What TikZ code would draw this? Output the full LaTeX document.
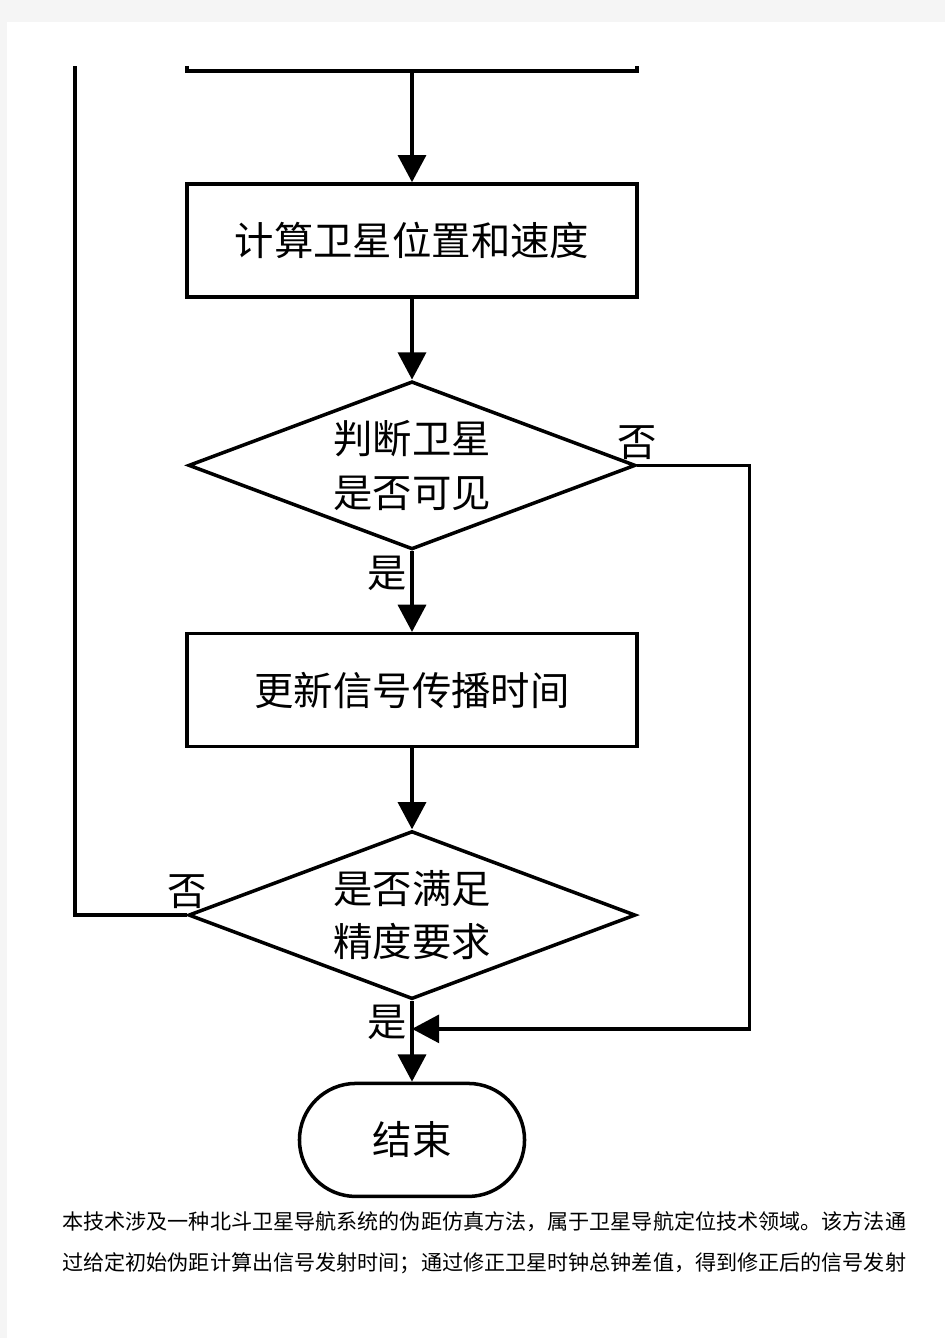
\documentclass[tikz,border=0pt]{standalone}
\usepackage{fontspec}
\setmainfont{Noto Sans CJK SC}
\usetikzlibrary{shapes.geometric,arrows.meta,positioning}

\tikzstyle{box} = [rectangle, minimum width=11.25cm, minimum height=2.825cm, text centered, draw=black, line width=2.5pt, font=\fontsize{28}{38}\selectfont]
\tikzstyle{decide} = [diamond, aspect=2.66, minimum width=11.175cm, minimum height=4.2cm, inner sep=0pt, align=center, draw=black, line width=2.5pt, font=\fontsize{28}{38}\selectfont]
\tikzstyle{stop} = [rectangle, rounded corners=1.41cm, minimum width=5.625cm, minimum height=2.825cm, text centered, draw=black, line width=2.5pt, font=\fontsize{28}{38}\selectfont]
\tikzstyle{lbl} = [font=\fontsize{28}{34}\selectfont, inner sep=3pt]
\tikzstyle{para} = [font=\fontsize{15}{20}\selectfont, anchor=west, inner sep=0pt]

\begin{document}
\begin{tikzpicture}[x=0.025cm,y=-0.025cm,auto,node distance=5.62cm,semithick]
\tikzstyle{flow}=[line width=2.5pt, -{Triangle[length=0.68cm,width=0.7cm]}]

% page
\fill[black!4] (0,0) rectangle (945,1338);
\fill[white] (7,22) rectangle (945,1338);

\node[box] (Calc) at (412,240.5) {计算卫星位置和速度};
\node[decide] (Visible) [below of=Calc] {判断卫星\\是否可见};
\node[box] (Update) [below of=Visible] {更新信号传播时间};
\node[decide] (Accurate) [below of=Update] {是否满足\\精度要求};
\node[stop] (End) [below of=Accurate] {结束};

% cut-off step above
\coordinate (Top) at (412,71);
\coordinate (TopLeft) at (75,66);
\coordinate[below=0.7cm of Accurate.south] (Join);
\draw[line width=2.5pt] (187,66) |- (637,71) -- (637,66);

\node[lbl, above=1pt] at (Visible.east) {否};
\node[lbl, below left] at (Visible.south) {是};
\node[lbl, above=1pt] at (Accurate.west) {否};
\node[lbl, below left] at (Accurate.south) {是};

\path[flow]
  (Top) edge (Calc)
  (Calc) edge (Visible)
  (Visible) edge (Update)
  (Update) edge (Accurate)
  (Accurate) edge (End);
\draw[flow] (Visible.east) -- ++(2.8cm,0) |- (Join);
\draw[line width=2.5pt] (Accurate.west) -| (TopLeft);

\node[para] (Line1) at (62,1222) {本技术涉及一种北斗卫星导航系统的伪距仿真方法，属于卫星导航定位技术领域。该方法通};
\node[para] (Line2) at (62,1263) {过给定初始伪距计算出信号发射时间；通过修正卫星时钟总钟差值，得到修正后的信号发射};

\end{tikzpicture}
\end{document}
